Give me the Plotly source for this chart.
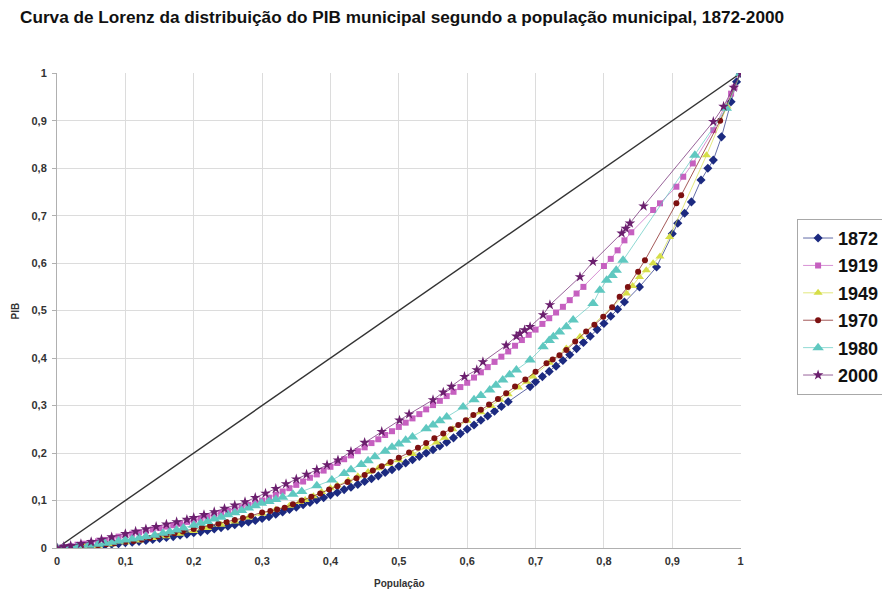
import plotly.graph_objects as go

years = ["1872", "1919", "1949", "1970", "1980", "2000"]

x_1872 = [0.00, 0.01, 0.02, 0.03, 0.04, 0.05, 0.06, 0.07, 0.08, 0.09, 0.10, 0.11, 0.12, 0.13, 0.14, 0.15, 0.16, 0.17, 0.18, 0.19,
          0.20, 0.21, 0.22, 0.23, 0.24, 0.25, 0.26, 0.27, 0.28, 0.29, 0.30, 0.31, 0.32, 0.33, 0.34, 0.35, 0.36, 0.37, 0.38, 0.39,
          0.40, 0.41, 0.42, 0.43, 0.44, 0.45, 0.46, 0.47, 0.48, 0.49, 0.50, 0.51, 0.52, 0.53, 0.54, 0.55, 0.56, 0.57, 0.58, 0.59,
          0.60, 0.61, 0.62, 0.63, 0.64, 0.65, 0.66, 0.692, 0.70, 0.71, 0.72, 0.73, 0.74, 0.75, 0.76, 0.77, 0.78, 0.79, 0.80,
          0.81, 0.82, 0.83, 0.852, 0.877, 0.90, 0.908, 0.918, 0.928, 0.942, 0.952, 0.96, 0.972, 0.986, 0.994, 1.0]
y_1872 = [0.000, 0.001, 0.002, 0.002, 0.003, 0.004, 0.005, 0.006, 0.008, 0.009, 0.011, 0.012, 0.014, 0.016, 0.018, 0.020, 0.022, 0.024, 0.027, 0.029,
          0.032, 0.034, 0.037, 0.040, 0.043, 0.046, 0.049, 0.052, 0.055, 0.058, 0.062, 0.066, 0.071, 0.076, 0.081, 0.086, 0.091, 0.096, 0.101, 0.106,
          0.112, 0.117, 0.123, 0.128, 0.134, 0.140, 0.146, 0.152, 0.159, 0.165, 0.172, 0.179, 0.186, 0.193, 0.200, 0.207, 0.215, 0.223, 0.232, 0.241,
          0.250, 0.259, 0.269, 0.278, 0.288, 0.298, 0.308, 0.340, 0.350, 0.361, 0.372, 0.383, 0.395, 0.407, 0.420, 0.433, 0.446, 0.460, 0.473,
          0.488, 0.503, 0.518, 0.550, 0.592, 0.662, 0.684, 0.705, 0.729, 0.775, 0.800, 0.817, 0.866, 0.940, 0.982, 1.0]

x_1919 = [0.00, 0.01, 0.02, 0.03, 0.04, 0.05, 0.06, 0.07, 0.08, 0.09, 0.10, 0.11, 0.12, 0.13, 0.14, 0.15, 0.16, 0.17, 0.18, 0.19,
          0.20, 0.21, 0.22, 0.23, 0.24, 0.25, 0.26, 0.27, 0.28, 0.29, 0.30, 0.31, 0.32, 0.33, 0.34, 0.35, 0.36, 0.37, 0.38, 0.39,
          0.40, 0.41, 0.42, 0.43, 0.44, 0.45, 0.46, 0.47, 0.48, 0.49, 0.50, 0.51, 0.52, 0.53, 0.54, 0.55, 0.56, 0.57, 0.58, 0.59,
          0.60, 0.61, 0.62, 0.63, 0.64, 0.65, 0.66, 0.67, 0.68, 0.69, 0.70, 0.71, 0.72, 0.73, 0.74, 0.75, 0.76, 0.77,
          0.80, 0.81, 0.82, 0.83, 0.84, 0.872, 0.882, 0.906, 0.916, 0.93, 0.96, 0.986, 0.991, 1.0]
y_1919 = [0.000, 0.002, 0.004, 0.007, 0.009, 0.011, 0.014, 0.017, 0.020, 0.024, 0.027, 0.030, 0.033, 0.036, 0.039, 0.042, 0.045, 0.048, 0.051, 0.055,
          0.058, 0.062, 0.066, 0.070, 0.074, 0.078, 0.082, 0.086, 0.091, 0.095, 0.100, 0.106, 0.112, 0.119, 0.126, 0.133, 0.140, 0.148, 0.155, 0.163,
          0.171, 0.179, 0.187, 0.195, 0.204, 0.212, 0.221, 0.229, 0.238, 0.246, 0.255, 0.264, 0.273, 0.282, 0.292, 0.301, 0.310, 0.320, 0.329, 0.339,
          0.348, 0.359, 0.370, 0.381, 0.392, 0.403, 0.414, 0.426, 0.438, 0.449, 0.460, 0.472, 0.484, 0.496, 0.508, 0.522, 0.536, 0.550,
          0.594, 0.609, 0.627, 0.648, 0.665, 0.712, 0.726, 0.761, 0.782, 0.810, 0.880, 0.957, 0.970, 1.0]

x_1949 = [0.00, 0.02, 0.04, 0.06, 0.08, 0.10, 0.12, 0.14, 0.16, 0.18, 0.20, 0.22, 0.24, 0.26, 0.28, 0.30, 0.32, 0.34, 0.355, 0.363,
          0.375, 0.387, 0.40, 0.41, 0.426, 0.44, 0.455, 0.47, 0.485, 0.50, 0.52, 0.54, 0.555, 0.567, 0.579, 0.60, 0.62, 0.635, 0.648,
          0.66, 0.675, 0.687, 0.696, 0.72, 0.745, 0.765, 0.833, 0.842, 0.852, 0.862, 0.872, 0.882, 0.896, 0.95, 0.98, 1.0]
y_1949 = [0.000, 0.001, 0.003, 0.005, 0.008, 0.012, 0.016, 0.021, 0.025, 0.030, 0.036, 0.042, 0.049, 0.056, 0.064, 0.072, 0.081, 0.089, 0.097, 0.101,
          0.109, 0.118, 0.126, 0.132, 0.142, 0.151, 0.160, 0.168, 0.177, 0.185, 0.198, 0.212, 0.222, 0.232, 0.250, 0.268, 0.286, 0.299, 0.312,
          0.324, 0.338, 0.350, 0.361, 0.390, 0.420, 0.445, 0.536, 0.552, 0.571, 0.585, 0.600, 0.614, 0.655, 0.827, 0.930, 1.0]

x_1970 = [0.00, 0.012, 0.024, 0.036, 0.048, 0.06, 0.072, 0.084, 0.10, 0.112, 0.124, 0.136, 0.148, 0.16, 0.172, 0.184, 0.20, 0.212, 0.224, 0.236,
          0.248, 0.26, 0.272, 0.284, 0.30, 0.312, 0.322, 0.333, 0.345, 0.358, 0.372, 0.385, 0.398, 0.41, 0.425, 0.438, 0.45, 0.462, 0.475, 0.488,
          0.50, 0.515, 0.528, 0.54, 0.552, 0.565, 0.576, 0.587, 0.598, 0.609, 0.62, 0.632, 0.645, 0.657, 0.67, 0.685, 0.70, 0.716, 0.725, 0.735,
          0.745, 0.758, 0.774, 0.786, 0.799, 0.812, 0.823, 0.835, 0.85, 0.86, 0.906, 0.913, 0.97, 1.0]
y_1970 = [0.000, 0.001, 0.002, 0.003, 0.004, 0.006, 0.008, 0.010, 0.013, 0.015, 0.018, 0.021, 0.024, 0.028, 0.031, 0.035, 0.040, 0.043, 0.047, 0.051,
          0.055, 0.059, 0.063, 0.068, 0.075, 0.078, 0.081, 0.085, 0.092, 0.100, 0.108, 0.115, 0.123, 0.130, 0.139, 0.147, 0.154, 0.163, 0.172, 0.181,
          0.190, 0.201, 0.211, 0.221, 0.231, 0.241, 0.250, 0.259, 0.269, 0.280, 0.291, 0.302, 0.314, 0.326, 0.340, 0.355, 0.371, 0.389, 0.397, 0.406,
          0.417, 0.435, 0.456, 0.470, 0.487, 0.507, 0.529, 0.550, 0.582, 0.606, 0.726, 0.743, 0.900, 1.0]

x_1980 = [0.00, 0.01, 0.02, 0.03, 0.046, 0.06, 0.07, 0.08, 0.09, 0.10, 0.11, 0.12, 0.13, 0.143, 0.155, 0.165, 0.175, 0.185, 0.20, 0.21,
          0.22, 0.23, 0.24, 0.25, 0.26, 0.27, 0.28, 0.29, 0.299, 0.31, 0.32, 0.33, 0.345, 0.358, 0.38, 0.402, 0.42, 0.43, 0.445, 0.455,
          0.465, 0.48, 0.49, 0.50, 0.51, 0.52, 0.54, 0.55, 0.56, 0.57, 0.594, 0.61, 0.62, 0.633, 0.642, 0.652, 0.662, 0.672, 0.692, 0.711,
          0.72, 0.726, 0.735, 0.745, 0.755, 0.784, 0.794, 0.804, 0.812, 0.818, 0.828, 0.933, 0.979, 1.0]
y_1980 = [0.000, 0.001, 0.002, 0.003, 0.006, 0.008, 0.010, 0.012, 0.015, 0.017, 0.019, 0.021, 0.024, 0.027, 0.031, 0.034, 0.038, 0.042, 0.048, 0.052,
          0.056, 0.061, 0.065, 0.070, 0.074, 0.079, 0.084, 0.089, 0.094, 0.098, 0.102, 0.107, 0.113, 0.119, 0.131, 0.143, 0.157, 0.165, 0.176, 0.184,
          0.192, 0.204, 0.212, 0.219, 0.227, 0.234, 0.251, 0.259, 0.268, 0.276, 0.297, 0.312, 0.321, 0.333, 0.343, 0.354, 0.365, 0.375, 0.396, 0.424,
          0.437, 0.445, 0.455, 0.466, 0.480, 0.515, 0.543, 0.564, 0.574, 0.585, 0.606, 0.827, 0.926, 1.0]

x_2000 = [0.00, 0.01, 0.02, 0.035, 0.05, 0.065, 0.08, 0.10, 0.115, 0.13, 0.145, 0.16, 0.175, 0.19, 0.20, 0.215, 0.23, 0.245, 0.26, 0.275,
          0.29, 0.305, 0.32, 0.335, 0.35, 0.365, 0.38, 0.395, 0.411, 0.43, 0.45, 0.475, 0.501, 0.515, 0.55, 0.565, 0.577, 0.596, 0.614, 0.623,
          0.657, 0.672, 0.677, 0.684, 0.692, 0.711, 0.721, 0.765, 0.784, 0.826, 0.832, 0.838, 0.858, 0.96, 0.975, 0.99, 1.0]
y_2000 = [0.000, 0.003, 0.005, 0.009, 0.013, 0.018, 0.023, 0.030, 0.035, 0.040, 0.045, 0.050, 0.055, 0.060, 0.064, 0.070, 0.076, 0.083, 0.090, 0.097,
          0.106, 0.115, 0.125, 0.135, 0.145, 0.155, 0.165, 0.175, 0.185, 0.203, 0.222, 0.245, 0.269, 0.282, 0.312, 0.328, 0.340, 0.361, 0.375, 0.392,
          0.427, 0.446, 0.452, 0.459, 0.466, 0.491, 0.512, 0.571, 0.603, 0.663, 0.673, 0.684, 0.720, 0.898, 0.930, 0.970, 1.0]

diag_x = [0, 1]
diag_y = [0, 1]

series = [
    ("1872", x_1872, y_1872, "#1c2a80", "diamond", 7),
    ("1919", x_1919, y_1919, "#c660c0", "square", 6),
    ("1949", x_1949, y_1949, "#d6de48", "triangle-up", 8),
    ("1970", x_1970, y_1970, "#7d1111", "circle", 6),
    ("1980", x_1980, y_1980, "#5fc8c0", "triangle-up", 10),
    ("2000", x_2000, y_2000, "#6b1f6e", "star", 8),
]

FONT = "Liberation Sans, Arial, sans-serif"

# The page body adds an 8 px offset at top/left; the figure is sized so it fills the window.
W, H = 882, 584
OFF = 8

fig = go.Figure()
fig.add_trace(go.Scatter(x=diag_x, y=diag_y, mode="lines",
                         line=dict(color="#333333", width=1.4),
                         showlegend=False, hoverinfo="skip"))

for name, xs, ys, col, sym, sz in series:
    fig.add_trace(go.Scatter(
        x=xs, y=ys, name=name, mode="lines+markers",
        line=dict(color=col, width=0.7),
        marker=dict(color=col, symbol=sym, size=sz, line=dict(width=0)),
        legendgroup=name,
    ))

tickvals = [0, 0.1, 0.2, 0.3, 0.4, 0.5, 0.6, 0.7, 0.8, 0.9, 1]
tickfont = dict(size=11, family=FONT, color="#333333", weight="bold")

fig.update_layout(
    width=W, height=H,
    paper_bgcolor="white", plot_bgcolor="white",
    separators=",.",
    margin=dict(l=57 - OFF, r=149, t=73 - OFF, b=44, autoexpand=False),
    font=dict(family=FONT, color="#222222"),
    title=dict(text="<b>Curva de Lorenz da distribuição do PIB municipal segundo a população municipal, 1872-2000</b>",
               x=(20 - OFF) / W, xref="container", xanchor="left",
               y=1 - (17 - OFF) / H, yref="container", yanchor="middle",
               pad=dict(l=0, r=0, t=0, b=0),
               font=dict(size=17.2, family=FONT, color="#111111")),
    xaxis=dict(range=[0, 1.0005], tickvals=tickvals, showgrid=True, gridcolor="#dcdcdc",
               gridwidth=1, zeroline=False, showline=True, linecolor="#b0b0b0",
               ticks="", tickfont=tickfont, automargin=False,
               ticklabelstandoff=3),
    yaxis=dict(range=[0, 1.0005], tickvals=tickvals, showgrid=True, gridcolor="#dcdcdc",
               gridwidth=1, zeroline=False, showline=True, linecolor="#b0b0b0",
               ticks="outside", ticklen=4, tickcolor="#b0b0b0",
               tickfont=tickfont, automargin=False,
               ticklabelstandoff=3),
    legend=dict(x=1.082, y=0.693, xanchor="left", yanchor="top",
                bordercolor="#a8a8a8", borderwidth=1, bgcolor="white",
                font=dict(size=18, family=FONT, color="#111111", weight="bold"),
                tracegroupgap=1, itemwidth=30),
    annotations=[
        dict(text="<b>População</b>", x=0.5, y=-0.0737, xref="paper", yref="paper",
             showarrow=False, font=dict(size=10, family=FONT, color="#333333"), yanchor="middle"),
        dict(text="<b>PIB</b>", x=-0.06, y=0.5, xref="paper", yref="paper", textangle=-90,
             showarrow=False, font=dict(size=10, family=FONT, color="#333333"), xanchor="center"),
    ],
)

fig.write_html("out.html")
